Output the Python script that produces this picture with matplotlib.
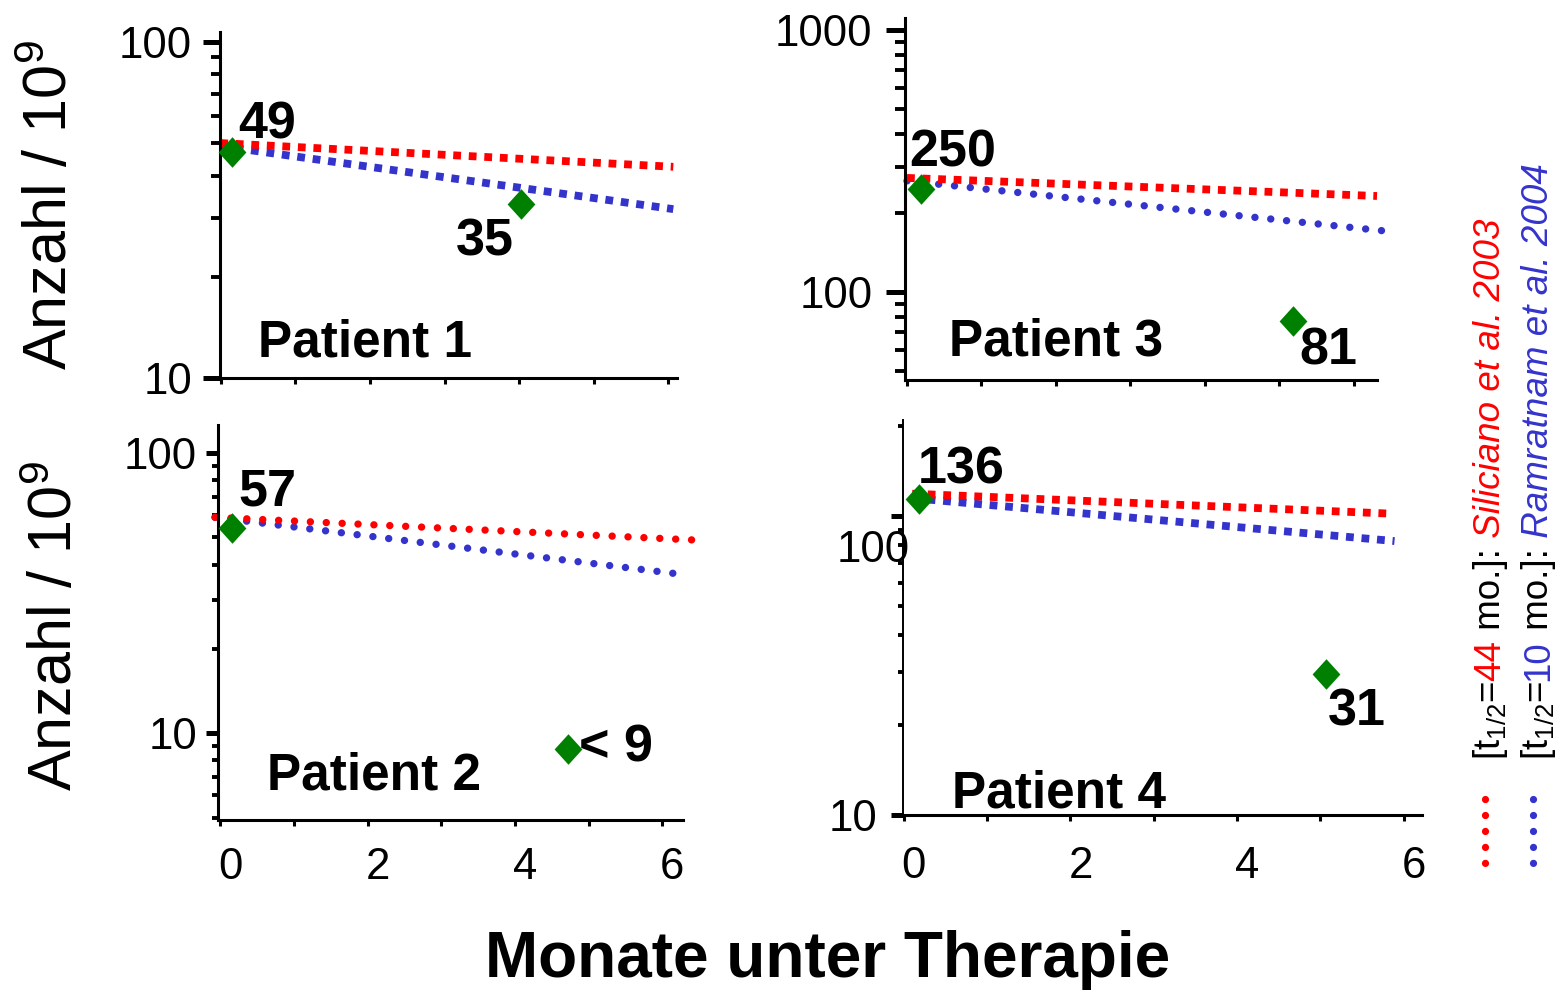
import matplotlib
matplotlib.use("Agg")
import matplotlib.pyplot as plt
from matplotlib.ticker import FixedLocator, LogLocator, NullFormatter, FuncFormatter
from matplotlib.transforms import ScaledTranslation
from matplotlib.lines import Line2D

plt.rcParams['font.family'] = ['Liberation Sans', 'DejaVu Sans']
plt.rcParams['mathtext.fontset'] = 'custom'
plt.rcParams['mathtext.rm'] = 'Liberation Sans'
plt.rcParams['mathtext.it'] = 'Liberation Sans:italic'
plt.rcParams['mathtext.default'] = 'regular'

W, H = 1558, 990
RED = '#ff0000'
BLUE = '#3434cc'
GREEN = '#008000'

# --- data ---
patients = ["Patient 1", "Patient 2", "Patient 3", "Patient 4"]
meas_t = [[0.15, 4.03], [0.16, 4.72], [0.19, 5.18], [0.18, 5.07]]
meas_n = [[47, 33], [54, 8.8], [247, 77.5], [114, 29.7]]
meas_lbl = [["49", "35"], ["57", "< 9"], ["250", "81"], ["136", "31"]]

# model curves (straight on log axis): start / end of each line
line_t0 = [-0.01, -0.07, 0.0, 0.1]
red_t1 = [6.07, 6.40, 6.31, 5.86]
blue_t1 = [6.07, 6.23, 6.38, 5.89]
red_n = [[50, 42.5], [59, 49], [272, 232], [119, 102]]
blue_n = [[49, 31.8], [59, 37], [265, 171], [115, 82.6]]

half_lives = [44, 10]
sources = ["Siliciano et al. 2003", "Ramratnam et al. 2004"]

x_ticks = [0, 1, 2, 3, 4, 5, 6]

# --- layout (pixel boxes: left, right, top, bottom) ---
boxes = [(220, 677, 32, 378), (218, 683, 425, 820),
         (905, 1377, 18, 380), (903, 1422, 420, 815)]
xlims = [(-0.013, 6.12), (-0.03, 6.28), (-0.027, 6.31), (-0.01, 6.22)]
ylims = [(10, 107), (4.9, 126), (46, 1110), (10, 210)]
yticks = [[10, 100], [10, 100], [100, 1000], [10, 100]]
red_kind = ['sq', 'round', 'sq', 'sq']
blue_kind = ['sq', 'round', 'round', 'sq']
show_xlabels = [False, True, False, True]
# (major len, minor len, pad) for y ticks, in points
ytick_fmt = [(12, 6.5, 8), (8.5, 4.5, 6.5), (13.5, 7.5, 10), (8.5, 3.5, 10)]
xlab_pad = [14, 15, 14, 18]
# text offsets from the diamonds, in pixels (dx, dy up)
lbl_off = [[(6, 14), (-65, -52)], [(6, 23), (11, -13)],
           [(-12, 22), (7, -44)], [(-1, 16), (2, -52)]]
pat_pos = [(0.083, 0.061), (0.105, 0.078), (0.093, 0.069), (0.094, 0.018)]

diamond = [(0, 1.1), (1, 0), (0, -1.1), (-1, 0), (0, 1.1)]

fig = plt.figure(figsize=(W / 100, H / 100), dpi=100)


def dotted(ax, x, y, color, kind):
    if kind == 'sq':
        ax.plot(x, y, color=color, lw=5.6, dashes=(1, 1.0),
                dash_capstyle='butt', clip_on=False, zorder=2)
    else:
        ax.plot(x, y, color=color, lw=5.3, dashes=(0.01, 2.15),
                dash_capstyle='round', clip_on=False, zorder=2)


for i in range(4):
    l, r, t, b = boxes[i]
    ax = fig.add_axes([l / W, 1 - b / H, (r - l) / W, (b - t) / H])
    ax.set_yscale('log')
    ax.set_xlim(*xlims[i])
    ax.set_ylim(*ylims[i])

    dotted(ax, [line_t0[i], blue_t1[i]], blue_n[i], BLUE, blue_kind[i])
    dotted(ax, [line_t0[i], red_t1[i]], red_n[i], RED, red_kind[i])
    ax.plot(meas_t[i], meas_n[i], ls='none', marker=diamond, ms=22,
            color=GREEN, mec='none', clip_on=False, zorder=3)

    for j in range(2):
        dx, dy = lbl_off[i][j]
        ax.annotate(meas_lbl[i][j], (meas_t[i][j], meas_n[i][j]),
                    xytext=(dx * 0.72, dy * 0.72), textcoords='offset points',
                    ha='left', va='baseline', fontsize=37.5, fontweight='bold')

    ax.text(pat_pos[i][0], pat_pos[i][1], patients[i], transform=ax.transAxes,
            ha='left', va='baseline', fontsize=37, fontweight='bold')

    for s in ['top', 'right']:
        ax.spines[s].set_visible(False)
    for s in ['left', 'bottom']:
        ax.spines[s].set_linewidth(2.2)
    if i == 3:
        ax.spines['left'].set_linewidth(1.4)

    maj, mnr, pad = ytick_fmt[i]
    ax.yaxis.set_major_locator(FixedLocator(yticks[i]))
    ax.yaxis.set_minor_locator(LogLocator(base=10, subs=range(2, 10)))
    ax.yaxis.set_minor_formatter(NullFormatter())
    if i == 3:
        ax.yaxis.set_major_formatter(FuncFormatter(lambda v, p: '10' if v < 50 else ''))
        ax.annotate('100', (0, 100), xycoords=('axes fraction', 'data'),
                    xytext=(5, -25), textcoords='offset points',
                    ha='right', va='center', fontsize=31.5)
    else:
        ax.yaxis.set_major_formatter(FuncFormatter(lambda v, p: '%d' % v))
    ax.tick_params(axis='y', which='major', direction='out', length=maj,
                   width=3.6, labelsize=31.5, pad=pad)
    ax.tick_params(axis='y', which='minor', direction='out', length=mnr, width=2.8)

    ax.xaxis.set_major_locator(FixedLocator(x_ticks))
    if show_xlabels[i]:
        ax.xaxis.set_major_formatter(
            FuncFormatter(lambda v, p: '%d' % v if int(round(v)) % 2 == 0 else ''))
    else:
        ax.xaxis.set_major_formatter(NullFormatter())
    ax.tick_params(axis='x', which='major', direction='out', length=4.5,
                   width=2.2, labelsize=31.5, pad=xlab_pad[i])
    for lab in ax.get_xticklabels():
        lab.set_transform(lab.get_transform() +
                          ScaledTranslation(0.10, 0, fig.dpi_scale_trans))

# axis titles
fig.text(67 / W, 1 - 205 / H, 'Anzahl / 10$^9$', rotation=90, rotation_mode='anchor',
         ha='center', va='baseline', fontsize=44)
fig.text(72 / W, 1 - 626 / H, 'Anzahl / 10$^9$', rotation=90, rotation_mode='anchor',
         ha='center', va='baseline', fontsize=44)
fig.text(828 / W, 1 - 977 / H, 'Monate unter Therapie', ha='center', va='baseline',
         fontsize=46, fontweight='bold')

# rotated legend
renderer = fig.canvas.get_renderer()
leg_cols = [RED, BLUE]
leg_base = [1500, 1548]
leg_dot_x = [1485, 1533]
for k in range(2):
    c = leg_cols[k]
    fig.add_artist(Line2D([leg_dot_x[k] / W] * 2, [1 - 799 / H, 1 - 864 / H],
                          transform=fig.transFigure, color=c, lw=5.2,
                          dashes=(0.01, 2.2), dash_capstyle='round'))
    pieces = [("[t$_{1/2}$=", 'black', 'normal'),
              (str(half_lives[k]), c, 'normal'),
              (" mo.]:", 'black', 'normal'),
              (" " + sources[k], c, 'italic')]
    y = 760
    for s, col, st in pieces:
        tx = fig.text(leg_base[k] / W, 1 - y / H, s, color=col, style=st,
                      fontsize=26.5, rotation=90, rotation_mode='anchor',
                      ha='left', va='baseline')
        bb = tx.get_window_extent(renderer)
        y -= bb.height

fig.savefig('out.png', dpi=100)
